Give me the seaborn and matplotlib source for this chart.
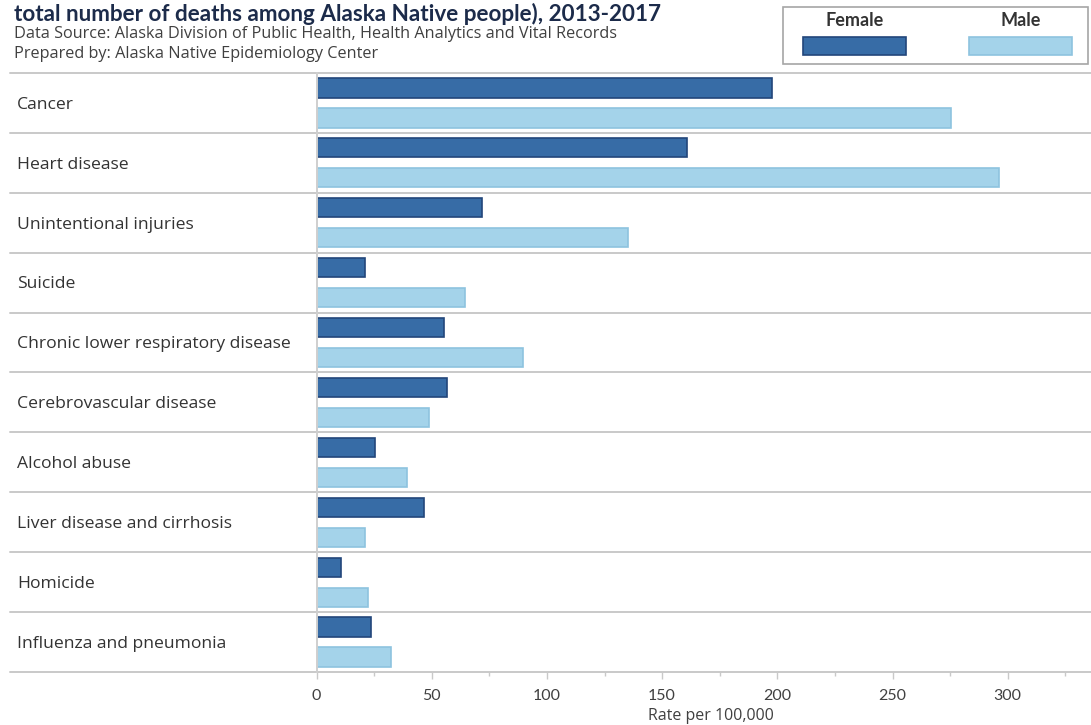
import matplotlib
matplotlib.use("Agg")
import matplotlib.pyplot as plt
import matplotlib.transforms as mtransforms
from matplotlib.patches import Rectangle
from matplotlib.ticker import MultipleLocator
import pandas as pd
import seaborn as sns

# Leading causes of death, age-adjusted rate per 100,000, by sex
causes = [
    "Cancer",
    "Heart disease",
    "Unintentional injuries",
    "Suicide",
    "Chronic lower respiratory disease",
    "Cerebrovascular disease",
    "Alcohol abuse",
    "Liver disease and cirrhosis",
    "Homicide",
    "Influenza and pneumonia",
]
female_rate = [197.5, 161.0, 71.8, 21.2, 55.5, 56.5, 25.5, 46.8, 10.8, 23.8]
male_rate = [275.4, 296.4, 135.0, 64.6, 89.8, 48.8, 39.1, 21.2, 22.2, 32.5]
sexes = ["Female", "Male"]
x_ticks = [0, 50, 100, 150, 200, 250, 300]

title = "total number of deaths among Alaska Native people), 2013-2017"
source_line = "Data Source: Alaska Division of Public Health, Health Analytics and Vital Records"
prepared_line = "Prepared by: Alaska Native Epidemiology Center"
x_label = "Rate per 100,000"

colors = {"Female": "#376ca6", "Male": "#a4d3ea"}
edges = {"Female": "#22467a", "Male": "#8ec3df"}

df = pd.DataFrame({
    "cause": causes * 2,
    "rate": female_rate + male_rate,
    "sex": [sexes[0]] * len(causes) + [sexes[1]] * len(causes),
})

sns.set_theme(style="white")
plt.rcParams["font.family"] = ["Lato", "DejaVu Sans"]
BODY = ["Open Sans", "DejaVu Sans"]

W, H = 1091, 725
fig = plt.figure(figsize=(W / 100, H / 100), dpi=100)
ax = fig.add_axes([316.5 / W, (H - 672) / H, (W - 316.5) / W, (672 - 73) / H])

sns.barplot(
    data=df, y="cause", x="rate", hue="sex", order=causes, hue_order=sexes,
    palette=colors, orient="h", width=1.0, gap=0.36, legend=False, ax=ax,
    linewidth=1.2, saturation=1,
)
for cont, s in zip(ax.containers, sexes):
    for bar in cont:
        bar.set_edgecolor(edges[s])

ax.set_xlim(0, (W - 316.5) / 2.304)
ax.set_ylim(len(causes) - 0.5, -0.5)

# Row separators running under the category labels
x_start = (10 - 316.5) / (W - 316.5)
for i in range(len(causes) + 1):
    ax.axhline(i - 0.5, xmin=x_start, xmax=1, color="#c9c9c9", lw=1.4,
               clip_on=False, zorder=0)

for side in ["top", "right", "bottom"]:
    ax.spines[side].set_visible(False)
ax.spines["left"].set_color("#cfcfcf")
ax.spines["left"].set_linewidth(1.4)

ax.set_yticks([])
ax.set_ylabel("")
ax.xaxis.set_minor_locator(MultipleLocator(25))
ax.set_xticks(x_ticks)
ax.set_xticklabels([str(t) for t in x_ticks])
ax.tick_params(axis="x", which="both", bottom=True, direction="out",
               color="#c9c9c9", width=1.0, labelcolor="#404040", labelsize=11.5,
               pad=7)
ax.tick_params(axis="x", which="major", length=5)
ax.tick_params(axis="x", which="minor", length=3)
ax.set_xlabel("")

# Axis title placed just above the bottom edge of the figure
fig.text(711 / W, 1 / H, x_label, ha="center",
         va="bottom", fontsize=11.5, color="#404040", family=BODY)

# Category labels, left-aligned near the figure edge
trans = mtransforms.blended_transform_factory(fig.transFigure, ax.transData)
for i, c in enumerate(causes):
    ax.text(17 / W, i + 0.03, c, transform=trans, ha="left", va="center",
            fontsize=12.6, color="#333333", family=BODY)

# Header text
fig.text(14 / W, 1 - 14 / H, title, ha="left", va="center", fontsize=16.2,
         fontweight="bold", color="#1c2b4a")
fig.text(14 / W, 1 - 34.5 / H, source_line, ha="left", va="center",
         fontsize=11.7, color="#404040", family=BODY)
fig.text(14 / W, 1 - 53.5 / H, prepared_line, ha="left", va="center",
         fontsize=11.7, color="#404040", family=BODY)

# Legend box with labels above swatches
fig.patches.append(Rectangle((783 / W, 1 - 64 / H), 305 / W, 57 / H,
                             transform=fig.transFigure, facecolor="white",
                             edgecolor="#a6a6a6", lw=1.2))
for s, x0 in zip(sexes, [803, 969]):
    fig.patches.append(Rectangle((x0 / W, 1 - 55 / H), 103 / W, 18 / H,
                                 transform=fig.transFigure,
                                 facecolor=colors[s], edgecolor=edges[s], lw=1.2))
    fig.text((x0 + 51.5) / W, 1 - 20 / H, s, ha="center", va="center",
             fontsize=13, fontweight="bold", color="#333333")

fig.savefig("out.png", dpi=100, facecolor="white")
